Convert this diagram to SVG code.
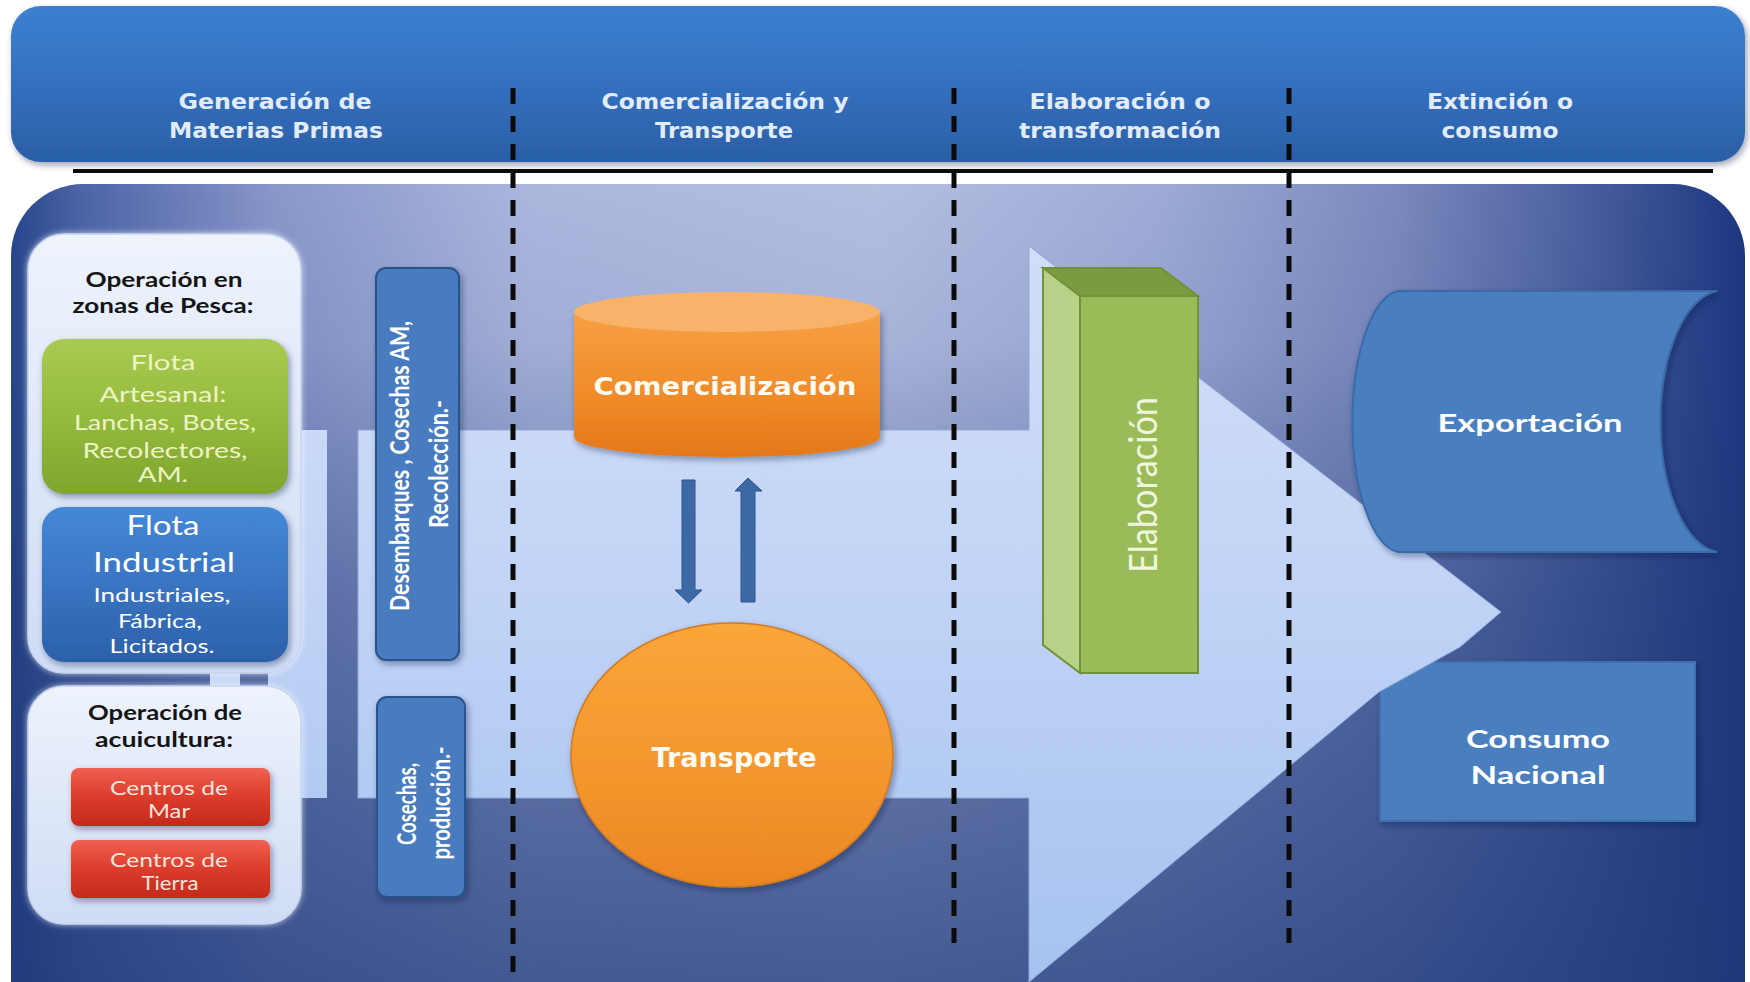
<svg xmlns="http://www.w3.org/2000/svg" width="1750" height="982" viewBox="0 0 1750 982">
<defs>
<style>
.hdr{font-family:"DejaVu Sans",Verdana,sans-serif;font-weight:bold;font-size:20.5px;fill:#e2ecf8;text-anchor:middle}
.lbl{font-family:Lato,"Open Sans",sans-serif;text-anchor:middle}
.b{font-weight:bold}
.tah{font-family:"DejaVu Sans",Verdana,sans-serif;font-weight:bold;fill:#fffaf2;text-anchor:middle}
.dash{stroke:#0b0b0b;stroke-width:5;stroke-dasharray:16 12;fill:none}
.vbox{fill:#4a7cbe;stroke:#2a528e;stroke-width:2}
.wt{fill:#ffffff}
</style>
<linearGradient id="bodyH" gradientUnits="userSpaceOnUse" x1="11" y1="0" x2="1745" y2="0">
<stop offset="0" stop-color="#27468c"/>
<stop offset="0.04" stop-color="#4c64a6"/>
<stop offset="0.15" stop-color="#8896ca"/>
<stop offset="0.3" stop-color="#abb7dd"/>
<stop offset="0.5" stop-color="#b3bee1"/>
<stop offset="0.66" stop-color="#9eabd6"/>
<stop offset="0.8" stop-color="#7a89be"/>
<stop offset="0.9" stop-color="#4d62a0"/>
<stop offset="1" stop-color="#1c3680"/>
</linearGradient>
<linearGradient id="bodyV" gradientUnits="userSpaceOnUse" x1="0" y1="184" x2="0" y2="982">
<stop offset="0" stop-color="#1e3878" stop-opacity="0"/>
<stop offset="0.2" stop-color="#1e3878" stop-opacity="0.08"/>
<stop offset="0.52" stop-color="#1e3878" stop-opacity="0.45"/>
<stop offset="1" stop-color="#1e3878" stop-opacity="0.74"/>
</linearGradient>
<linearGradient id="hdrG" x1="0" y1="0" x2="0" y2="1">
<stop offset="0" stop-color="#3b80d0"/>
<stop offset="0.5" stop-color="#3470bf"/>
<stop offset="1" stop-color="#2b5fa6"/>
</linearGradient>
<linearGradient id="bandG" gradientUnits="userSpaceOnUse" x1="0" y1="246" x2="0" y2="982">
<stop offset="0" stop-color="#d2def7"/>
<stop offset="0.4" stop-color="#c4d6f6"/>
<stop offset="1" stop-color="#a6c2f0"/>
</linearGradient>
<linearGradient id="panelG" x1="0" y1="0" x2="0" y2="1">
<stop offset="0" stop-color="#eef3fc"/>
<stop offset="1" stop-color="#cfdcf5"/>
</linearGradient>
<linearGradient id="greenG" x1="0" y1="0" x2="0" y2="1">
<stop offset="0" stop-color="#a9ca52"/>
<stop offset="0.5" stop-color="#94bb3c"/>
<stop offset="1" stop-color="#7fa62e"/>
</linearGradient>
<linearGradient id="blueG" x1="0" y1="0" x2="0" y2="1">
<stop offset="0" stop-color="#4488d6"/>
<stop offset="0.5" stop-color="#3a74c2"/>
<stop offset="1" stop-color="#2c60aa"/>
</linearGradient>
<linearGradient id="redG" x1="0" y1="0" x2="0" y2="1">
<stop offset="0" stop-color="#f06050"/>
<stop offset="0.5" stop-color="#dc3c2c"/>
<stop offset="1" stop-color="#c42a1c"/>
</linearGradient>
<linearGradient id="cylG" x1="0" y1="0" x2="0" y2="1">
<stop offset="0" stop-color="#f7a044"/>
<stop offset="0.6" stop-color="#f08a28"/>
<stop offset="1" stop-color="#e4781a"/>
</linearGradient>
<linearGradient id="ellG" x1="0" y1="0" x2="0" y2="1">
<stop offset="0" stop-color="#f9a63a"/>
<stop offset="0.6" stop-color="#f4952c"/>
<stop offset="1" stop-color="#ea8622"/>
</linearGradient>
<filter id="sh" x="-20%" y="-20%" width="140%" height="140%">
<feDropShadow dx="2" dy="3" stdDeviation="3" flood-color="#0a1a40" flood-opacity="0.4"/>
</filter>
<filter id="glow" x="-20%" y="-20%" width="140%" height="140%">
<feDropShadow dx="0" dy="0" stdDeviation="3" flood-color="#ffffff" flood-opacity="0.7"/>
</filter>
</defs>

<g id="body-panel">
<path d="M11 1000 L11 256 A72 72 0 0 1 83 184 L1673 184 A72 72 0 0 1 1745 256 L1745 1000 Z" fill="url(#bodyH)"/>
<path d="M11 1000 L11 256 A72 72 0 0 1 83 184 L1673 184 A72 72 0 0 1 1745 256 L1745 1000 Z" fill="url(#bodyV)"/>
</g>

<g id="header">
<rect x="11" y="6" width="1734" height="156" rx="30" fill="url(#hdrG)" filter="url(#sh)"/>
<text class="hdr" x="275" y="109" textLength="193" lengthAdjust="spacingAndGlyphs">Generación de</text>
<text class="hdr" x="276" y="138" textLength="214" lengthAdjust="spacingAndGlyphs">Materias Primas</text>
<text class="hdr" x="725" y="109" textLength="247" lengthAdjust="spacingAndGlyphs">Comercialización y</text>
<text class="hdr" x="724" y="138" textLength="138" lengthAdjust="spacingAndGlyphs">Transporte</text>
<text class="hdr" x="1120" y="109" textLength="181" lengthAdjust="spacingAndGlyphs">Elaboración o</text>
<text class="hdr" x="1120" y="138" textLength="202" lengthAdjust="spacingAndGlyphs">transformación</text>
<text class="hdr" x="1500" y="109" textLength="146" lengthAdjust="spacingAndGlyphs">Extinción o</text>
<text class="hdr" x="1500" y="138" textLength="117" lengthAdjust="spacingAndGlyphs">consumo</text>
</g>

<g id="consumo-nacional">
<rect x="1380" y="662" width="315" height="159" fill="#4a7fbf" stroke="#3c70b0" stroke-width="2" filter="url(#sh)"/>
<text class="lbl b wt" x="1538" y="748" font-size="24" textLength="144" lengthAdjust="spacingAndGlyphs">Consumo</text>
<text class="lbl b wt" x="1538" y="784" font-size="24" textLength="135" lengthAdjust="spacingAndGlyphs">Nacional</text>
</g>

<g id="flow-arrow">
<rect x="268" y="430" width="59" height="368" fill="url(#bandG)"/>
<path d="M358 430 L1029 430 L1029 246 L1501 612 L1460 647 L1379 692 L1029 982 L1029 798 L358 798 Z" fill="url(#bandG)" stroke="#8fa8d8" stroke-width="1"/>
<rect x="210" y="664" width="30" height="26" fill="#c6d6f4"/>
</g>

<g id="connectors">
<line x1="73" y1="171" x2="1713" y2="171" stroke="#0b0b0b" stroke-width="4"/>
<line class="dash" x1="513" y1="88" x2="513" y2="982"/>
<line class="dash" x1="954" y1="88" x2="954" y2="943"/>
<line class="dash" x1="1289" y1="88" x2="1289" y2="943"/>
<path d="M682 480 L695 480 L695 590 L702 590 L688.5 603 L675 590 L682 590 Z" fill="#3d6aa6" stroke="#2c548c" stroke-width="1"/>
<path d="M741 602 L755 602 L755 491 L762 491 L748 478 L735 491 L741 491 Z" fill="#3d6aa6" stroke="#2c548c" stroke-width="1"/>
</g>

<g id="operacion-pesca">
<rect x="28" y="234" width="273" height="439" rx="36" fill="url(#panelG)" stroke="#c4d4f0" stroke-width="1.5" filter="url(#glow)"/>
<text class="lbl b" x="164" y="287" font-size="20" fill="#151515" textLength="157" lengthAdjust="spacingAndGlyphs">Operación en</text>
<text class="lbl b" x="163" y="313" font-size="20" fill="#151515" textLength="181" lengthAdjust="spacingAndGlyphs">zonas de Pesca:</text>
</g>

<g id="flota-artesanal">
<rect x="42" y="339" width="246" height="155" rx="22" fill="url(#greenG)" filter="url(#sh)"/>
<text class="lbl" x="163" y="370" font-size="21" fill="#eef3c4" textLength="65" lengthAdjust="spacingAndGlyphs">Flota</text>
<text class="lbl" x="163" y="402" font-size="21" fill="#eef3c4" textLength="127" lengthAdjust="spacingAndGlyphs">Artesanal:</text>
<text class="lbl" x="165" y="430" font-size="21" fill="#eef3c4" textLength="182" lengthAdjust="spacingAndGlyphs">Lanchas, Botes,</text>
<text class="lbl" x="165" y="458" font-size="21" fill="#eef3c4" textLength="165" lengthAdjust="spacingAndGlyphs">Recolectores,</text>
<text class="lbl" x="163" y="482" font-size="21" fill="#eef3c4" textLength="50" lengthAdjust="spacingAndGlyphs">AM.</text>
</g>

<g id="flota-industrial">
<rect x="42" y="507" width="246" height="155" rx="22" fill="url(#blueG)" filter="url(#sh)"/>
<text class="lbl wt" x="163" y="535" font-size="27" textLength="73" lengthAdjust="spacingAndGlyphs">Flota</text>
<text class="lbl wt" x="164" y="572" font-size="27" textLength="142" lengthAdjust="spacingAndGlyphs">Industrial</text>
<text class="lbl wt" x="162" y="602" font-size="20" textLength="137" lengthAdjust="spacingAndGlyphs">Industriales,</text>
<text class="lbl wt" x="160" y="628" font-size="20" textLength="84" lengthAdjust="spacingAndGlyphs">Fábrica,</text>
<text class="lbl wt" x="162" y="653" font-size="20" textLength="105" lengthAdjust="spacingAndGlyphs">Licitados.</text>
</g>

<g id="operacion-acuicultura">
<rect x="28" y="686" width="273" height="238" rx="36" fill="url(#panelG)" stroke="#c4d4f0" stroke-width="1.5" filter="url(#glow)"/>
<text class="lbl b" x="165" y="720" font-size="20" fill="#151515" textLength="154" lengthAdjust="spacingAndGlyphs">Operación de</text>
<text class="lbl b" x="164" y="747" font-size="20" fill="#151515" textLength="138" lengthAdjust="spacingAndGlyphs">acuicultura:</text>
</g>

<g id="centros-mar">
<rect x="71" y="768" width="199" height="58" rx="8" fill="url(#redG)" filter="url(#sh)"/>
<text class="lbl" x="169" y="795" font-size="19" fill="#fde6dc" textLength="118" lengthAdjust="spacingAndGlyphs">Centros de</text>
<text class="lbl" x="169" y="818" font-size="19" fill="#fde6dc" textLength="42" lengthAdjust="spacingAndGlyphs">Mar</text>
</g>

<g id="centros-tierra">
<rect x="71" y="840" width="199" height="58" rx="8" fill="url(#redG)" filter="url(#sh)"/>
<text class="lbl" x="169" y="867" font-size="19" fill="#fde6dc" textLength="118" lengthAdjust="spacingAndGlyphs">Centros de</text>
<text class="lbl" x="170" y="890" font-size="19" fill="#fde6dc" textLength="57" lengthAdjust="spacingAndGlyphs">Tierra</text>
</g>

<g id="desembarques">
<rect class="vbox" x="376" y="268" width="83" height="392" rx="10" filter="url(#sh)"/>
<text class="lbl b wt" transform="translate(409 466) rotate(-90)" font-size="27" textLength="290" lengthAdjust="spacingAndGlyphs">Desembarques , Cosechas AM,</text>
<text class="lbl b wt" transform="translate(448 464) rotate(-90)" font-size="27" textLength="128" lengthAdjust="spacingAndGlyphs">Recolección.-</text>
</g>

<g id="cosechas">
<rect class="vbox" x="377" y="697" width="88" height="200" rx="10" filter="url(#sh)"/>
<text class="lbl b wt" transform="translate(416 804) rotate(-90)" font-size="27" textLength="82" lengthAdjust="spacingAndGlyphs">Cosechas,</text>
<text class="lbl b wt" transform="translate(450 803) rotate(-90)" font-size="27" textLength="113" lengthAdjust="spacingAndGlyphs">producción.-</text>
</g>

<g id="comercializacion">
<path d="M574 312 L574 437 A153 20 0 0 0 880 437 L880 312 Z" fill="url(#cylG)" filter="url(#sh)"/>
<ellipse cx="727" cy="312" rx="153" ry="20" fill="#f8b26a"/>
<text class="tah" x="725" y="395" font-size="25" textLength="263" lengthAdjust="spacingAndGlyphs">Comercialización</text>
</g>

<g id="transporte">
<ellipse cx="732" cy="755" rx="161" ry="132" fill="url(#ellG)" stroke="#d27a1e" stroke-width="1.5" filter="url(#sh)"/>
<text class="tah" x="734" y="767" font-size="26" textLength="165" lengthAdjust="spacingAndGlyphs">Transporte</text>
</g>

<g id="elaboracion">
<polygon points="1080,296 1198,296 1198,673 1080,673" fill="#9bbb59" stroke="#71913a" stroke-width="2"/>
<polygon points="1043,268 1161,268 1198,296 1080,296" fill="#7c9b3e" stroke="#71913a" stroke-width="2"/>
<polygon points="1043,268 1080,296 1080,673 1043,645" fill="#b8d088" stroke="#71913a" stroke-width="2"/>
<text class="lbl" transform="translate(1157 485) rotate(-90)" font-size="38" fill="#eef6dc" textLength="176" lengthAdjust="spacingAndGlyphs">Elaboración</text>
</g>

<g id="exportacion">
<path d="M1398 291 L1717 291 A62 131 0 0 0 1717 552 L1398 552 A50 131 0 0 1 1398 291 Z" fill="#4a7fbf" stroke="#3a6aa8" stroke-width="2" filter="url(#sh)"/>
<text class="lbl b wt" x="1530" y="432" font-size="24" textLength="185" lengthAdjust="spacingAndGlyphs">Exportación</text>
</g>
</svg>
